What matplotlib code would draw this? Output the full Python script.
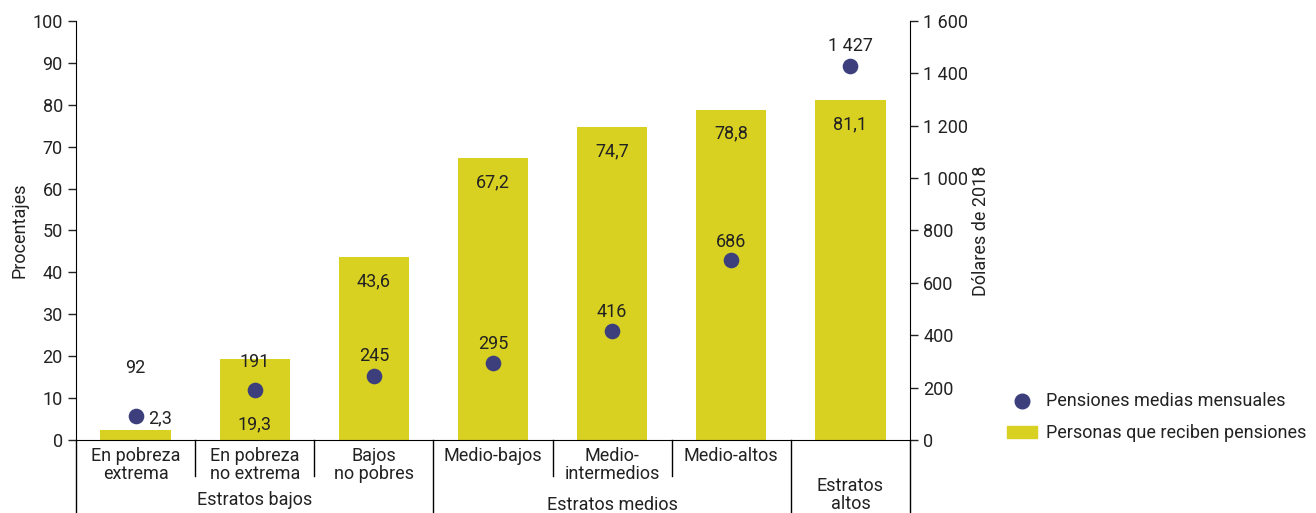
import matplotlib.pyplot as plt
import matplotlib.ticker as mticker
import matplotlib.transforms as mtransforms
import numpy as np

plt.rcParams.update({
    "font.family": ["Roboto", "DejaVu Sans"],
    "font.size": 13,
    "text.color": "#222222",
    "axes.labelcolor": "#222222",
    "xtick.color": "#222222",
    "ytick.color": "#222222",
})
BAR_C = "#d9d121"
DOT_C = "#3d3f7d"

categories = ["En pobreza\nextrema", "En pobreza\nno extrema", "Bajos\nno pobres",
              "Medio-bajos", "Medio-\nintermedios", "Medio-altos", ""]
share = [2.3, 19.3, 43.6, 67.2, 74.7, 78.8, 81.1]
pension = [92, 191, 245, 295, 416, 686, 1427]
groups = ["Estratos bajos", "Estratos medios", "Estratos\naltos"]

fig = plt.figure(figsize=(13.16, 5.13), dpi=100)
ax = fig.add_axes([76 / 1316, 1 - 440 / 513, 834 / 1316, 419 / 513])
ax2 = ax.twinx()

x = np.arange(len(share))
ax.bar(x, share, 0.59, color=BAR_C, zorder=2)
ax2.scatter(x, pension, s=105, color=DOT_C, zorder=3)

# bar value labels
for i, v in enumerate(share):
    txt = f"{v:.1f}".replace(".", ",")
    if i == 0:
        ax.annotate(txt, (i, v), textcoords="offset pixels", xytext=(24, 12),
                    ha="center", va="center", fontsize=13)
    elif i == 1:
        ax.annotate(txt, (i, 0), textcoords="offset pixels", xytext=(0, 16),
                    ha="center", va="center", fontsize=13)
    else:
        ax.annotate(txt, (i, v), textcoords="offset pixels", xytext=(0, -24),
                    ha="center", va="center", fontsize=13)

# dot value labels
dot_off = [48, 28, 20, 19, 19, 18, 20]
for i, v in enumerate(pension):
    txt = f"{v:,}".replace(",", " ")
    ax2.annotate(txt, (i, v), textcoords="offset pixels", xytext=(0, dot_off[i]),
                 ha="center", va="center", fontsize=13)

ax.set_xlim(-0.5, len(share) - 0.5)
ax.set_ylim(0, 100)
ax.set_yticks(np.arange(0, 101, 10))
ax2.set_ylim(0, 1600)
ax2.set_yticks(np.arange(0, 1601, 200))
ax2.yaxis.set_major_formatter(mticker.FuncFormatter(lambda v, p: f"{int(v):,}".replace(",", " ")))
ax.set_xticks([])
for a in (ax, ax2):
    a.spines["top"].set_visible(False)
    a.tick_params(axis="y", direction="out", length=6, width=1, labelsize=13)
ax2.spines["left"].set_visible(False)
ax2.spines["bottom"].set_visible(False)
ax.spines["right"].set_visible(False)

ax.set_ylabel("Procentajes", fontsize=13, labelpad=3)
ax2.set_ylabel("Dólares de 2018", fontsize=13, labelpad=3)

# category labels and separators below the axis
trans = mtransforms.blended_transform_factory(ax.transData, ax.transAxes)
px = 1 / 419
for i, c in enumerate(categories):
    ax.text(i, -7 * px, c, transform=trans, ha="center", va="top",
            fontsize=13, linespacing=1.0)
long_seps = [-0.5, 2.5, 5.5, 6.5]
short_seps = [0.5, 1.5, 3.5, 4.5]
for s in long_seps:
    ax.plot([s, s], [0, -73 * px], transform=trans, color="black", lw=1, clip_on=False)
for s in short_seps:
    ax.plot([s, s], [0, -36 * px], transform=trans, color="black", lw=1, clip_on=False)
ax.text(1, -60 * px, groups[0], transform=trans, ha="center", va="center", fontsize=13)
ax.text(4, -65 * px, groups[1], transform=trans, ha="center", va="center", fontsize=13)
ax.text(6, -55 * px, groups[2], transform=trans, ha="center", va="center",
        fontsize=13, linespacing=1.0)

# legend
fig.lines.append(plt.Line2D([1022 / 1316], [1 - 401 / 513], marker="o", ms=10.5,
                            color=DOT_C, transform=fig.transFigure, ls="none"))
fig.patches.append(plt.Rectangle((1007 / 1316, 1 - 438 / 513), 30 / 1316, 12 / 513,
                                 color=BAR_C, transform=fig.transFigure))
fig.text(1046 / 1316, 1 - 401 / 513, "Pensiones medias mensuales", ha="left",
         va="center", fontsize=13)
fig.text(1046 / 1316, 1 - 433 / 513, "Personas que reciben pensiones", ha="left",
         va="center", fontsize=13)

fig.savefig("out.png", dpi=100)
